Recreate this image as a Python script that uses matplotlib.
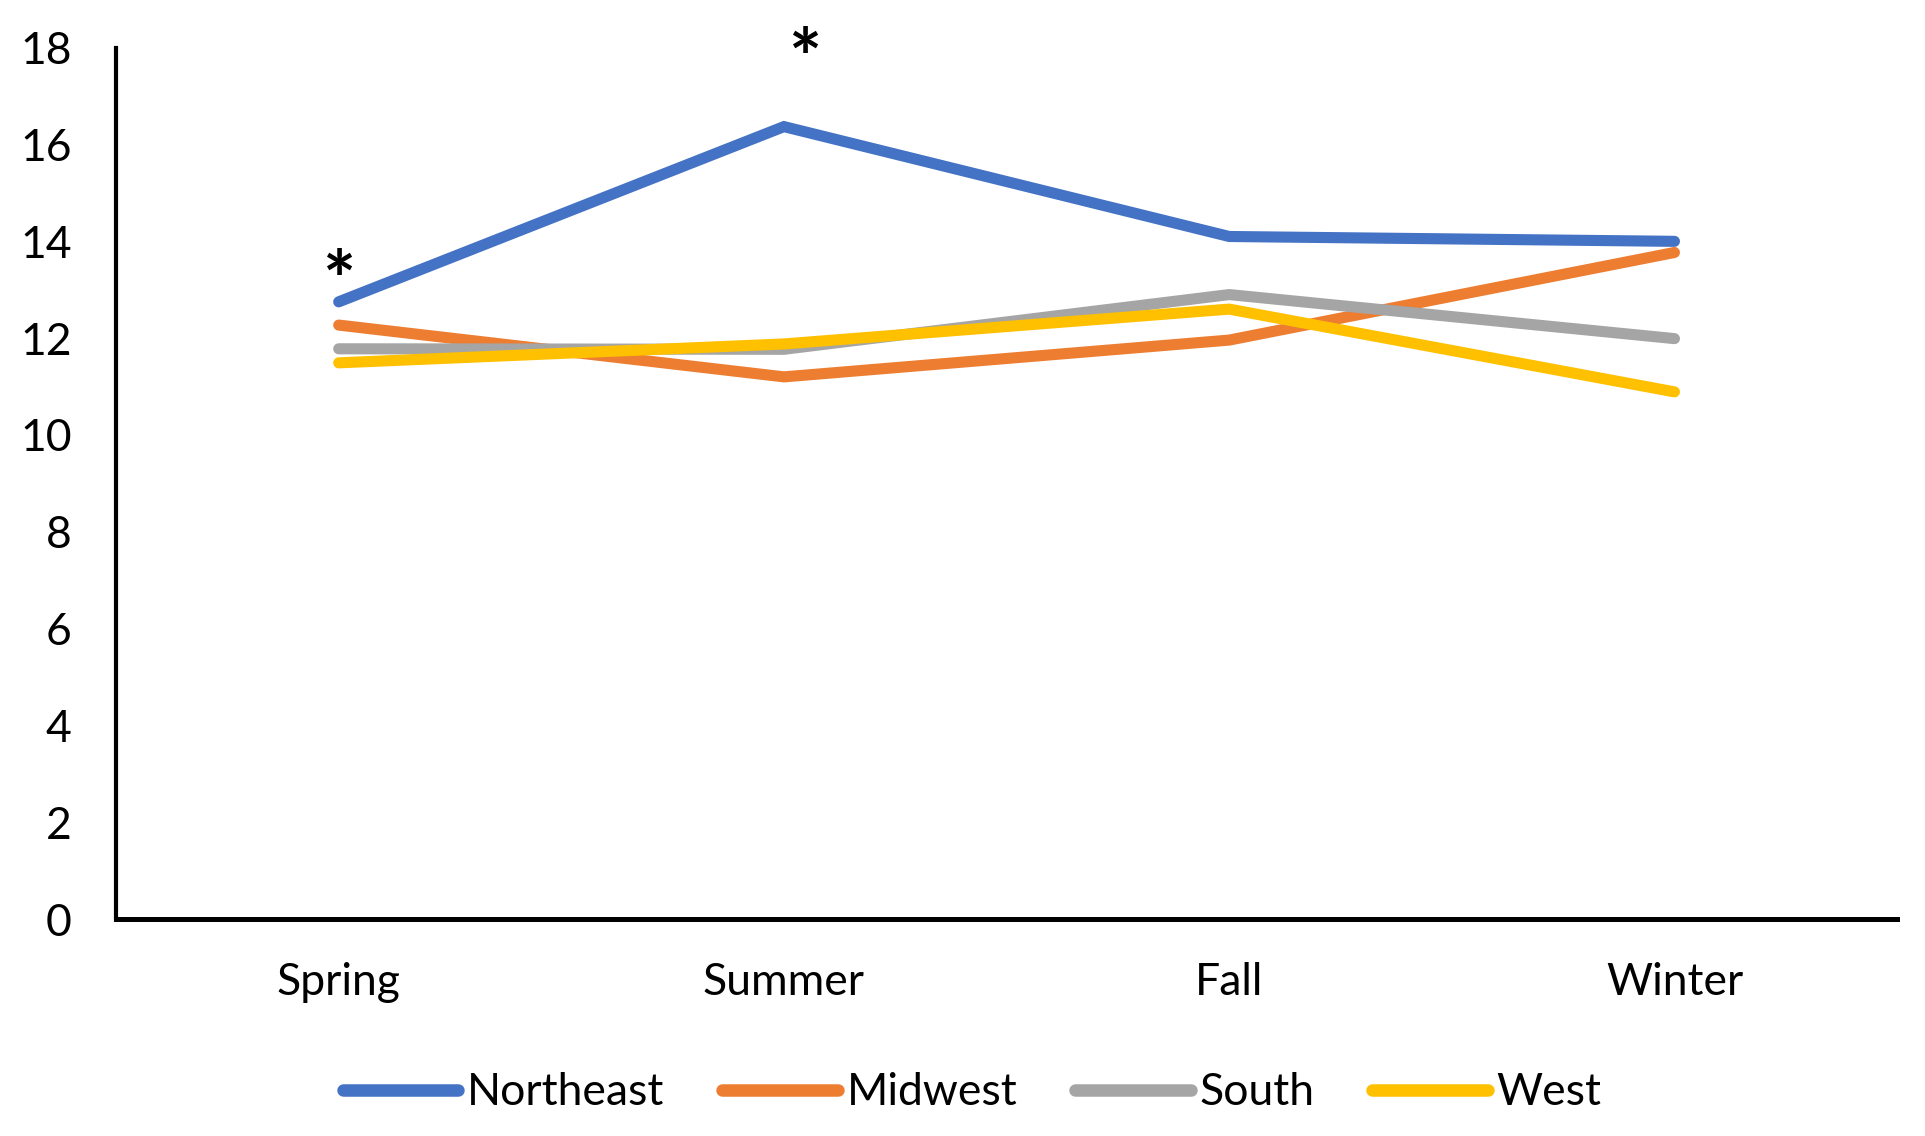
import matplotlib.pyplot as plt

# --- DATA ---
seasons = ['Spring', 'Summer', 'Fall', 'Winter']
northeast = [12.75, 16.37, 14.10, 14.00]
midwest = [12.27, 11.20, 11.96, 13.77]
south = [11.78, 11.77, 12.90, 11.99]
west = [11.49, 11.88, 12.60, 10.89]

series = [('Northeast', northeast, '#4472C4'),
          ('Midwest', midwest, '#ED7D31'),
          ('South', south, '#A5A5A5'),
          ('West', west, '#FFC000')]

plt.rcParams['font.family'] = ['Lato', 'DejaVu Sans']

fig = plt.figure(figsize=(19.25, 11.36), dpi=100)
ax = fig.add_axes([0.0603, 0.191, 0.9252, 0.767])

x = range(len(seasons))
for name, vals, col in series:
    ax.plot(x, vals, color=col, lw=8, solid_capstyle='round',
            solid_joinstyle='miter', label=name)

# significance markers
ax.text(0, 13.07, '*', fontsize=56, fontweight='bold', ha='center',
        va='center', clip_on=False)
ax.text(1.047, 17.67, '*', fontsize=56, fontweight='bold', ha='center',
        va='center', clip_on=False)

ax.set_xlim(-0.5, 3.5)
ax.set_ylim(0, 18)
ax.set_yticks(range(0, 19, 2))
ax.set_xticks(list(x))
ax.set_xticklabels(seasons)
ax.tick_params(axis='both', length=0, labelsize=32)
ax.tick_params(axis='y', pad=32)
ax.tick_params(axis='x', pad=31)

for s in ['top', 'right']:
    ax.spines[s].set_visible(False)
ax.spines['left'].set_linewidth(3)
ax.spines['bottom'].set_linewidth(3.6)

leg = fig.legend(loc='center', bbox_to_anchor=(0.505, 0.038), ncol=4,
                 frameon=False, fontsize=32, handlelength=2.6,
                 handletextpad=0.2, columnspacing=1.3)
for h in leg.get_lines():
    h.set_linewidth(9)
    h.set_solid_capstyle('round')

fig.savefig('out.png', dpi=100)
